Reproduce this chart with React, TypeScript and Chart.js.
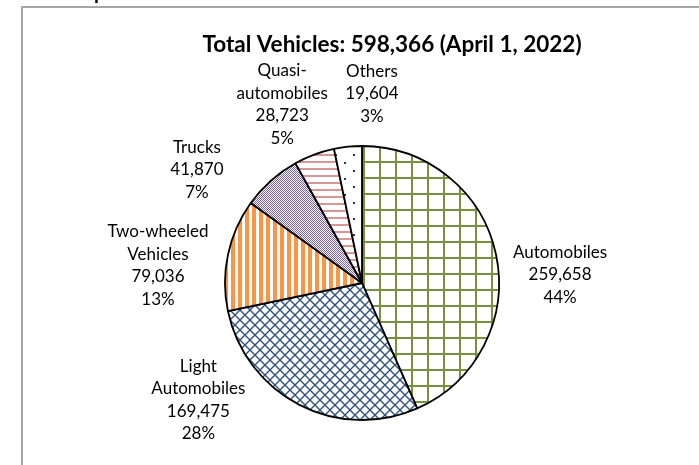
import React, { useEffect, useRef } from "react";
import { Chart, registerables } from "chart.js";

Chart.register(...registerables);

const categories = [
  "Automobiles",
  "Light Automobiles",
  "Two-wheeled Vehicles",
  "Trucks",
  "Quasi-automobiles",
  "Others",
];
const labelLines = [
  ["Automobiles"],
  ["Light", "Automobiles"],
  ["Two-wheeled", "Vehicles"],
  ["Trucks"],
  ["Quasi-", "automobiles"],
  ["Others"],
];
const vehicleCounts = [259658, 169475, 79036, 41870, 28723, 19604];
const percentLabels = ["44%", "28%", "13%", "7%", "5%", "3%"];
const chartTitle = "Total Vehicles: 598,366 (April 1, 2022)";

// layout: label block offsets from the arc's outer mid point
const labelNudges: [number, number][] = [
  [64, 20],
  [-101, -5],
  [-70, 11],
  [-74, -11],
  [-32, -50],
  [24, -53],
];

const W = 699;
const H = 465;
const FONT = "Lato, 'Open Sans', sans-serif";

function tile(
  w: number,
  h: number,
  draw: (g: CanvasRenderingContext2D) => void
): CanvasPattern {
  const c = document.createElement("canvas");
  c.width = w;
  c.height = h;
  const g = c.getContext("2d")!;
  g.fillStyle = "#ffffff";
  g.fillRect(0, 0, w, h);
  draw(g);
  return g.createPattern(c, "repeat")!;
}

function makePatterns(): CanvasPattern[] {
  const grid = tile(16, 16, (g) => {
    g.fillStyle = "#76923c";
    g.fillRect(11, 0, 2, 16);
    g.fillRect(0, 1, 16, 2);
  });
  const cross = tile(10, 10, (g) => {
    g.strokeStyle = "#2f5283";
    g.lineWidth = 1.4;
    for (const dx of [-10, 0, 10]) {
      g.beginPath();
      g.moveTo(dx, 0);
      g.lineTo(dx + 10, 10);
      g.moveTo(dx, 10);
      g.lineTo(dx + 10, 0);
      g.stroke();
    }
  });
  const vstripes = tile(7, 7, (g) => {
    g.fillStyle = "#f79646";
    g.fillRect(0, 0, 4, 7);
  });
  const checker = tile(2, 2, (g) => {
    g.fillStyle = "#7a62a0";
    g.fillRect(0, 0, 1, 1);
    g.fillRect(1, 1, 1, 1);
  });
  const hstripes = tile(7, 7, (g) => {
    g.fillStyle = "#d99694";
    g.fillRect(0, 0, 7, 2);
  });
  const dots = tile(18, 16, (g) => {
    g.fillStyle = "#1f3864";
    g.fillRect(2, 2, 2, 2);
    g.fillRect(11, 10, 2, 2);
  });
  return [grid, cross, vstripes, checker, hstripes, dots];
}

const decorPlugin = {
  id: "decor",
  beforeDraw(chart: any) {
    const ctx = chart.ctx as CanvasRenderingContext2D;
    ctx.save();
    ctx.fillStyle = "#ffffff";
    ctx.fillRect(0, 0, W, H);
    ctx.strokeStyle = "#a6a6a6";
    ctx.lineWidth = 2;
    ctx.beginPath();
    ctx.moveTo(22, H);
    ctx.lineTo(22, 7);
    ctx.lineTo(W, 7);
    ctx.stroke();
    ctx.fillStyle = "#000";
    ctx.font = `bold 20px ${FONT}`;
    ctx.textAlign = "left";
    ctx.textBaseline = "alphabetic";
    ctx.fillText("p", 94, -1);
    ctx.restore();
  },
  afterDatasetsDraw(chart: any) {
    const ctx = chart.ctx as CanvasRenderingContext2D;
    ctx.save();
    ctx.fillStyle = "#000";
    ctx.textAlign = "center";
    ctx.textBaseline = "middle";
    ctx.font = `bold 22.5px ${FONT}`;
    ctx.fillText(chartTitle, 392, 45);

    ctx.font = `17px ${FONT}`;
    const lineH = 22.5;
    const meta = chart.getDatasetMeta(0);
    meta.data.forEach((arc: any, i: number) => {
      const p = arc.getProps(
        ["x", "y", "startAngle", "endAngle", "outerRadius"],
        true
      );
      const mid = (p.startAngle + p.endAngle) / 2;
      const ax = p.x + Math.cos(mid) * p.outerRadius;
      const ay = p.y + Math.sin(mid) * p.outerRadius;
      const [nx, ny] = labelNudges[i];
      const lines = [
        ...labelLines[i],
        vehicleCounts[i].toLocaleString("en-US"),
        percentLabels[i],
      ];
      const cx = ax + nx;
      const cy = ay + ny;
      lines.forEach((t, j) => {
        ctx.fillText(t, cx, cy + (j - (lines.length - 1) / 2) * lineH);
      });
    });
    ctx.restore();
  },
};

export default function App() {
  const ref = useRef<HTMLCanvasElement | null>(null);
  useEffect(() => {
    if (!ref.current) return;
    const patterns = makePatterns();
    const chart = new Chart(ref.current, {
      type: "pie",
      data: {
        labels: categories,
        datasets: [
          {
            data: vehicleCounts,
            backgroundColor: patterns as any,
            borderColor: "#000000",
            borderWidth: 1.8,
            radius: 137,
          } as any,
        ],
      },
      options: {
        responsive: false,
        animation: false,
        layout: { padding: { left: 225, right: 200, top: 145, bottom: 44 } },
        plugins: {
          legend: { display: false },
          tooltip: { enabled: false },
          title: { display: false },
        },
      },
      plugins: [decorPlugin],
    });
    return () => chart.destroy();
  }, []);
  return (
    <div
      style={{
        position: "fixed",
        left: 0,
        top: 0,
        width: W,
        height: H,
        background: "#fff",
      }}
    >
      <canvas ref={ref} width={W} height={H} style={{ width: W, height: H }} />
    </div>
  );
}
